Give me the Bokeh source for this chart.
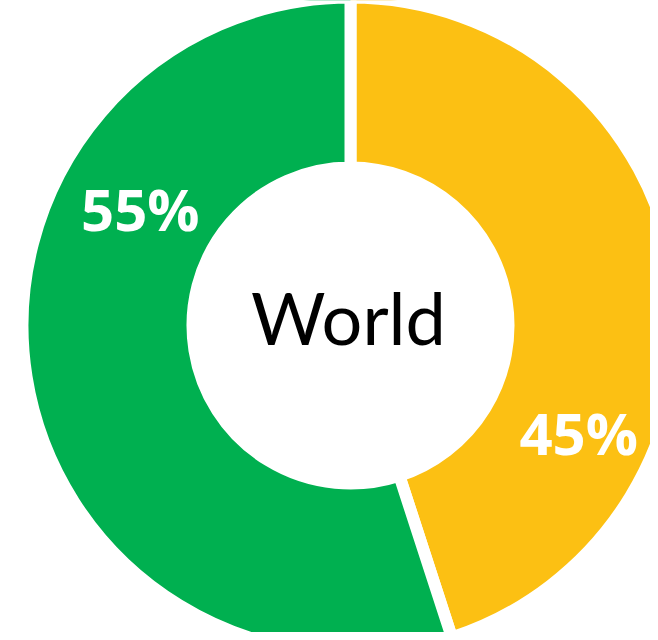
import math
from bokeh.plotting import figure
from bokeh.models import Range1d, ColumnDataSource
from bokeh.core.properties import value
from bokeh.embed import file_html
from bokeh.resources import INLINE

# ---- data ----
regions = ["Yellow", "Green"]
shares = [45, 55]
labels = ["45%", "55%"]
colors = ["#FCC013", "#00B050"]
center_label = "World"

# ---- layout ----
W, H = 650, 632
cx, cy = 350, 640 - 325
r_in, r_out = 158, 328
label_r = 246
label_shift_deg = 36
label_dx, label_dy = 9, 5

p = figure(width=W, height=H, output_backend="svg", toolbar_location=None,
           x_range=Range1d(0, W), y_range=Range1d(640 - H, 640),
           min_border=0)
p.axis.visible = False
p.grid.visible = False
p.outline_line_color = None
p.background_fill_color = "white"

total = sum(shares)
starts, ends, lx, ly = [], [], [], []
a = math.pi / 2
for s in shares:
    sweep = 2 * math.pi * s / total
    starts.append(a)
    ends.append(a - sweep)
    mid = a - sweep / 2 - math.radians(label_shift_deg)
    lx.append(cx + label_dx + label_r * math.cos(mid))
    ly.append(cy + label_dy + label_r * math.sin(mid))
    a -= sweep

src = ColumnDataSource(dict(start=starts, end=ends, color=colors, lx=lx, ly=ly, label=labels,
                            x=[cx] * len(shares), y=[cy] * len(shares)))
p.annular_wedge(x="x", y="y", inner_radius=r_in, outer_radius=r_out,
                start_angle="start", end_angle="end", direction="clock",
                fill_color="color", line_color="white", line_width=12, source=src)
p.text(x="lx", y="ly", text="label", source=src, text_color="white",
       text_font=value("Open Sans"), text_font_style="bold", text_font_size="58px",
       text_align="center", text_baseline="middle")
p.text(x=[cx - 2], y=[cy + 9], text=[center_label], text_color="black",
       text_font=value("Lato"), text_font_size="72px",
       text_align="center", text_baseline="middle")

open("out.html", "w").write(file_html(p, INLINE))
